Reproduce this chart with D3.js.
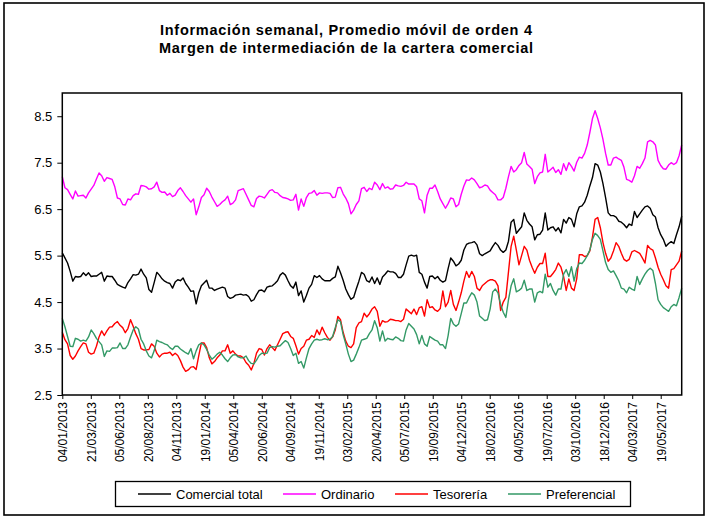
<!DOCTYPE html>
<html><head><meta charset="utf-8">
<script src="https://cdn.jsdelivr.net/npm/d3@7"></script>
<style>
body{margin:0;background:#fff}
svg{display:block}
text{font-family:"Liberation Sans",Arial,sans-serif;fill:#000}
</style>
</head><body>
<svg id="c" width="708" height="518"></svg>
<script>
const titleLines = ["Información semanal, Promedio móvil de orden 4", "Margen de intermediación de la cartera comercial"];
const startDate = "04/01/2013";
const tickLabels = ["04/01/2013","21/03/2013","05/06/2013","20/08/2013","04/11/2013","19/01/2014","05/04/2014","20/06/2014","04/09/2014","19/11/2014","03/02/2015","20/04/2015","05/07/2015","19/09/2015","04/12/2015","18/02/2016","04/05/2016","19/07/2016","03/10/2016","18/12/2016","04/03/2017","19/05/2017"];
const yTicks = [2.5, 3.5, 4.5, 5.5, 6.5, 7.5, 8.5];
const seriesNames = ["Comercial total", "Ordinario", "Tesorería", "Preferencial"];

const comercialTotal = [
5.56,5.45,5.34,5.16,4.95,5.05,5.04,5.05,5.13,5.07,5.13,5.05,5.06,5.06,5.10,5.14,4.95,5.06,5.05,5.05,4.97,4.88,4.85,4.82,4.80,4.92,5.00,5.09,5.08,5.10,5.21,5.10,5.02,4.77,4.71,4.92,5.14,5.08,5.00,4.95,4.92,
4.90,4.80,4.93,4.98,4.96,5.02,4.90,4.82,4.73,4.74,4.46,4.70,4.85,4.91,4.97,4.80,4.80,4.75,4.78,4.80,4.82,4.80,4.62,4.58,4.60,4.65,4.66,4.67,4.65,4.66,4.62,4.52,4.55,4.66,4.75,4.76,4.72,4.82,4.84,4.85,
4.90,4.96,5.08,5.13,5.08,4.96,4.85,4.80,4.93,4.64,4.74,4.50,4.64,4.80,4.88,5.07,5.03,5.07,5.00,4.96,4.96,4.96,5.01,5.04,5.27,5.13,4.97,4.78,4.66,4.56,4.60,4.78,4.95,5.14,5.10,4.96,4.93,5.04,4.90,5.02,
4.88,5.04,5.10,5.17,5.15,5.15,5.12,5.03,5.03,5.10,5.30,5.49,5.51,5.49,5.51,5.14,5.10,4.93,4.80,5.05,5.06,5.00,5.05,4.97,4.93,4.96,5.22,5.45,5.38,5.28,5.32,5.40,5.62,5.74,5.77,5.78,5.80,5.73,5.54,5.50,
5.54,5.57,5.60,5.70,5.78,5.72,5.62,5.57,5.62,5.81,6.22,6.28,5.98,6.05,6.12,6.42,6.26,6.18,6.12,5.84,5.95,5.96,6.05,6.42,6.05,6.10,6.12,6.03,6.10,5.99,6.28,6.20,6.32,6.28,6.12,6.40,6.55,6.57,6.65,6.80,
7.00,7.18,7.48,7.45,7.30,7.05,6.75,6.42,6.36,6.36,6.33,6.24,6.22,6.17,6.10,6.18,6.15,6.45,6.32,6.40,6.48,6.55,6.57,6.52,6.38,6.33,6.10,5.95,5.85,5.70,5.76,5.80,5.76,5.95,6.12,6.35];

const ordinario = [
7.20,6.96,6.92,6.82,6.72,6.89,6.78,6.79,6.80,6.74,6.85,6.93,7.01,7.15,7.28,7.22,7.10,7.18,7.16,7.14,6.98,6.74,6.72,6.60,6.59,6.72,6.70,6.79,6.83,6.82,7.01,7.00,6.98,6.93,6.94,6.98,7.08,6.90,6.86,6.87,6.80,
6.84,6.77,6.80,6.90,6.96,6.88,6.79,6.72,6.65,6.72,6.38,6.55,6.75,6.81,6.95,6.88,6.76,6.66,6.56,6.60,6.66,6.70,6.78,6.60,6.63,6.70,6.90,6.92,6.94,6.82,6.70,6.58,6.55,6.73,6.78,6.77,6.74,6.82,6.90,6.92,
6.86,6.85,6.79,6.75,6.74,6.72,6.69,6.70,6.82,6.48,6.72,6.56,6.75,6.84,6.85,6.90,6.80,6.85,6.84,6.85,6.85,6.84,6.75,6.76,6.96,6.97,6.83,6.74,6.62,6.40,6.48,6.60,6.68,6.94,6.97,6.88,6.95,6.92,7.08,7.02,
6.92,7.05,6.95,6.98,6.93,6.94,7.02,7.00,6.99,7.01,7.08,7.04,7.04,7.04,6.98,6.72,6.68,6.42,6.80,6.95,6.95,7.02,6.88,6.72,6.62,6.52,6.62,6.74,6.72,6.55,6.60,6.82,7.00,7.13,7.12,7.17,7.13,7.05,6.96,6.98,
7.02,7.00,6.91,6.86,6.81,6.70,6.70,6.75,6.95,7.20,7.42,7.30,7.35,7.44,7.50,7.72,7.47,7.42,7.36,7.05,7.20,7.28,7.30,7.68,7.30,7.35,7.40,7.29,7.35,7.25,7.48,7.33,7.50,7.42,7.32,7.51,7.62,7.60,7.70,7.88,
8.15,8.45,8.62,8.45,8.25,8.00,7.70,7.45,7.45,7.60,7.62,7.58,7.55,7.40,7.14,7.12,7.08,7.22,7.42,7.38,7.48,7.60,7.95,7.98,7.95,7.88,7.55,7.44,7.37,7.36,7.45,7.50,7.46,7.50,7.65,7.88];

const tesoreria = [
3.85,3.69,3.60,3.35,3.27,3.34,3.45,3.54,3.62,3.60,3.42,3.38,3.40,3.55,3.75,3.88,3.78,3.88,3.96,3.97,4.04,4.08,4.00,3.95,3.84,3.93,4.12,3.98,3.82,3.70,3.50,3.47,3.47,3.48,3.60,3.55,3.40,3.32,3.38,3.40,3.40,
3.42,3.35,3.40,3.35,3.24,3.10,3.01,3.04,3.10,3.11,3.05,3.35,3.62,3.62,3.52,3.30,3.17,3.22,3.30,3.36,3.45,3.45,3.58,3.40,3.45,3.38,3.34,3.34,3.30,3.20,3.14,3.04,3.18,3.40,3.50,3.48,3.36,3.50,3.58,3.52,
3.46,3.58,3.70,3.82,3.85,3.86,3.76,3.72,3.56,3.38,3.50,3.55,3.68,3.70,3.78,3.74,3.90,3.80,3.96,3.84,3.74,3.68,3.75,3.90,4.19,4.12,3.85,3.66,3.55,3.52,3.60,3.95,4.05,4.08,4.26,4.18,4.25,4.35,4.40,4.30,
3.98,4.10,4.07,4.08,4.13,4.12,4.10,4.10,4.08,4.13,4.35,4.30,4.25,4.35,4.23,4.38,4.40,4.20,4.55,4.38,4.40,4.33,4.30,4.36,4.74,4.40,4.50,4.75,4.45,4.32,4.50,4.70,4.95,5.16,5.03,5.16,5.05,4.80,4.75,4.85,
4.90,4.95,4.98,4.98,4.95,4.85,4.32,4.50,4.60,5.15,5.70,5.92,5.62,5.30,5.50,5.70,5.62,5.40,5.25,5.12,5.25,5.33,5.33,5.55,5.05,5.05,5.12,5.20,5.34,5.25,5.05,4.75,5.00,4.80,4.75,5.00,5.52,5.52,5.48,5.50,
5.60,5.90,6.28,6.32,6.10,5.78,5.55,5.38,5.45,5.60,5.78,5.70,5.55,5.42,5.38,5.42,5.58,5.61,5.58,5.55,5.45,5.34,5.72,5.65,5.62,5.45,5.25,5.10,4.98,4.85,4.80,5.20,5.22,5.30,5.38,5.60];

const preferencial = [
4.15,3.97,3.76,3.55,3.54,3.72,3.70,3.66,3.68,3.66,3.75,3.90,3.82,3.72,3.65,3.58,3.33,3.45,3.44,3.51,3.51,3.52,3.62,3.50,3.50,3.58,3.75,3.90,3.97,3.92,3.70,3.60,3.45,3.34,3.30,3.45,3.68,3.65,3.63,3.60,3.58,
3.52,3.48,3.55,3.55,3.49,3.45,3.41,3.38,3.50,3.28,3.45,3.58,3.62,3.58,3.48,3.36,3.27,3.32,3.38,3.42,3.36,3.28,3.22,3.30,3.36,3.37,3.32,3.30,3.30,3.34,3.24,3.18,3.17,3.25,3.35,3.40,3.39,3.40,3.52,3.54,
3.53,3.55,3.56,3.62,3.67,3.63,3.50,3.35,3.40,3.18,3.22,3.08,3.30,3.50,3.60,3.68,3.70,3.68,3.69,3.71,3.69,3.70,3.76,3.95,4.12,4.08,3.80,3.60,3.38,3.22,3.25,3.38,3.52,3.68,3.70,3.72,3.82,3.90,4.10,3.95,
3.66,3.88,3.66,3.72,3.70,3.69,3.75,3.72,3.67,3.66,3.90,4.04,3.98,3.92,3.80,3.60,3.78,3.60,3.55,3.76,3.72,3.68,3.66,3.58,3.58,3.50,3.78,4.15,4.03,3.98,4.03,4.25,4.48,4.48,4.60,4.70,4.65,4.50,4.20,4.15,
4.10,4.12,4.35,4.72,4.78,4.70,4.45,4.28,4.17,4.55,4.85,5.00,4.72,4.75,4.80,4.97,4.75,4.78,4.78,4.50,4.70,4.73,4.70,5.10,4.82,4.90,4.75,4.65,4.78,4.78,5.10,5.20,5.05,5.26,4.95,5.22,5.34,5.33,5.40,5.50,
5.62,5.85,5.98,5.93,5.85,5.60,5.35,5.20,5.14,5.17,5.07,4.96,4.80,4.78,4.70,4.82,4.78,4.75,5.05,4.88,5.00,5.10,5.18,5.23,5.18,4.90,4.55,4.45,4.38,4.34,4.30,4.40,4.45,4.42,4.60,4.80];

const seriesColors = ["#000000", "#ff00ff", "#ff0000", "#339966"];
const seriesValues = [comercialTotal, ordinario, tesoreria, preferencial];

const parse = d3.timeParse("%d/%m/%Y");
const fmt = d3.timeFormat("%d/%m/%Y");
const t0 = parse(startDate);
const dates = comercialTotal.map((_, i) => d3.timeDay.offset(t0, 7 * i));

const svg = d3.select("#c");
const L = 62.3, R = 681.7, T = 93, B = 395;

// outer frame
svg.append("rect").attr("x", 4).attr("y", 3).attr("width", 700).attr("height", 512)
  .attr("fill", "none").attr("stroke", "#000").attr("stroke-width", 1.6);

// titles
const titleWidths = [372, 374];
svg.selectAll("text.title").data(titleLines).enter().append("text")
  .attr("class", "title")
  .attr("x", 346).attr("y", (d, i) => 35 + i * 18)
  .attr("text-anchor", "middle")
  .attr("font-size", 14.5).attr("font-weight", "bold")
  .attr("textLength", (d, i) => titleWidths[i])
  .attr("lengthAdjust", "spacing")
  .text(d => d);

const x = d3.scaleTime().domain([t0, dates[dates.length - 1]]).range([L, R]);
const y = d3.scaleLinear().domain([2.5, 9.0]).range([B, T]);

// y axis
const ya = svg.append("g").attr("transform", `translate(${L},0)`)
  .call(d3.axisLeft(y).tickValues(yTicks).tickFormat(d3.format(".1f")).tickSize(5).tickPadding(5));
ya.select(".domain").remove();
ya.selectAll("line").attr("stroke", "#000");
ya.selectAll("text").attr("font-size", 13).attr("font-family", "Liberation Sans, Arial, sans-serif");

// x axis
const xa = svg.append("g").attr("transform", `translate(0,${B})`)
  .call(d3.axisBottom(x).tickValues(tickLabels.map(parse)).tickFormat(fmt).tickSize(4));
xa.select(".domain").remove();
xa.selectAll("line").attr("stroke", "#000");
xa.selectAll("text")
  .attr("font-size", 12).attr("font-family", "Liberation Sans, Arial, sans-serif")
  .attr("transform", "rotate(-90)")
  .attr("text-anchor", "end")
  .attr("x", -7).attr("y", 0).attr("dy", "0.36em");

// lines
const line = d3.line().x((d, i) => x(dates[i])).y(d => y(d));
svg.append("g").selectAll("path.series").data(seriesValues).enter().append("path")
  .attr("class", "series")
  .attr("d", d => line(d))
  .attr("fill", "none")
  .attr("stroke", (d, i) => seriesColors[i])
  .attr("stroke-width", 1.4)
  .attr("stroke-linejoin", "round");

// plot frame
svg.append("rect").attr("x", L).attr("y", T).attr("width", R - L).attr("height", B - T)
  .attr("fill", "none").attr("stroke", "#000").attr("stroke-width", 1.5);

// legend
const lg = svg.append("g");
lg.append("rect").attr("x", 115.5).attr("y", 481.5).attr("width", 515).attr("height", 25)
  .attr("fill", "#fff").attr("stroke", "#000").attr("stroke-width", 1.3);
const legX = [138, 283, 395, 508];
const items = lg.selectAll("g.item").data(seriesNames).enter().append("g")
  .attr("class", "item").attr("transform", (d, i) => `translate(${legX[i]},494)`);
items.append("line").attr("x1", 0).attr("x2", 33).attr("y1", 0).attr("y2", 0)
  .attr("stroke", (d, i) => seriesColors[i]).attr("stroke-width", 1.4);
items.append("text").attr("x", 38).attr("y", 0).attr("dy", "0.36em")
  .attr("font-size", 13).text(d => d);
</script>
</body></html>
